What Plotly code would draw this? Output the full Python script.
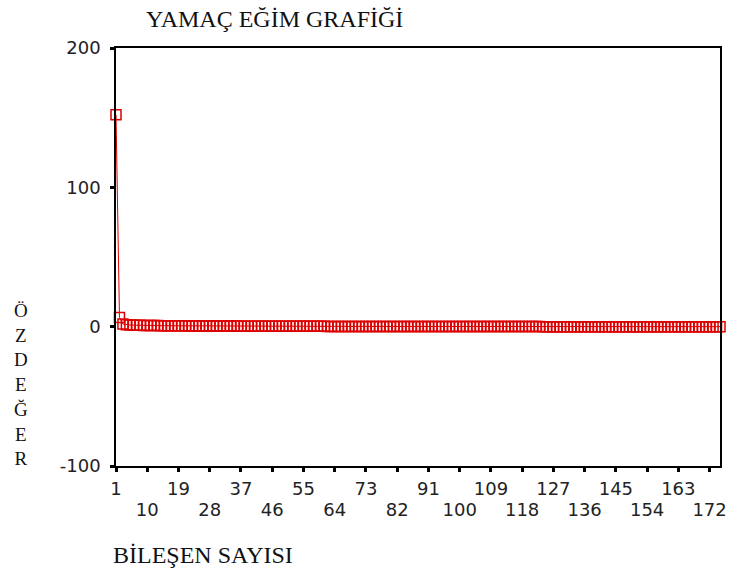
import plotly.graph_objects as go

# Scree plot: eigenvalue of each component, in order
components = list(range(1, 176))
eigenvalues = [
    152.1, 6.6, 1.9, 1.4, 1.2, 1.1, 1.0, 0.95, 0.90, 0.86,
    0.82, 0.79, 0.76, 0.73, 0.70, 0.68, 0.66, 0.64, 0.62, 0.60,
    0.58, 0.56, 0.55, 0.53, 0.52, 0.50, 0.49, 0.48, 0.46, 0.45,
    0.44, 0.43, 0.42, 0.41, 0.40, 0.39, 0.38, 0.37, 0.36, 0.35,
    0.35, 0.34, 0.33, 0.32, 0.31, 0.31, 0.30, 0.29, 0.28, 0.28,
    0.27, 0.26, 0.26, 0.25, 0.24, 0.24, 0.23, 0.23, 0.22, 0.21,
    0.21, 0.20, 0.20, 0.19, 0.19, 0.18, 0.18, 0.17, 0.17, 0.16,
    0.16, 0.15, 0.15, 0.15, 0.14, 0.14, 0.13, 0.13, 0.13, 0.12,
    0.12, 0.12, 0.11, 0.11, 0.11, 0.10, 0.10, 0.10, 0.09, 0.09,
    0.09, 0.09, 0.08, 0.08, 0.08, 0.08, 0.07, 0.07, 0.07, 0.07,
    0.06, 0.06, 0.06, 0.06, 0.06, 0.05, 0.05, 0.05, 0.05, 0.05,
    0.04, 0.04, 0.04, 0.04, 0.04, 0.04, 0.03, 0.03, 0.03, 0.03,
    0.03, 0.03, 0.03, 0.02, 0.02, 0.02, 0.02, 0.02, 0.02, 0.02,
    0.02, 0.02, 0.01, 0.01, 0.01, 0.01, 0.01, 0.01, 0.01, 0.01,
    0.01, 0.01, 0.01, 0.01, 0.01, 0.01, 0.01, 0.00, 0.00, 0.00,
    0.00, 0.00, 0.00, 0.00, 0.00, 0.00, 0.00, 0.00, 0.00, 0.00,
    0.00, 0.00, 0.00, 0.00, 0.00, 0.00, 0.00, 0.00, 0.00, 0.00,
    0.00, 0.00, 0.00, 0.00, 0.00,
]

# Tick positions: first row and the staggered second row
x_ticks_upper = [1, 19, 37, 55, 73, 91, 109, 127, 145, 163]
x_ticks_lower = [10, 28, 46, 64, 82, 100, 118, 136, 154, 172]
y_tick_values = [-100, 0, 100, 200]

X_RANGE = [1, 175]
Y_RANGE = [-100, 200]
RED = "#dc0000"
sans = "DejaVu Sans, Arial, sans-serif"
serif = "Liberation Serif, Times New Roman, serif"
tick_font = dict(family=sans, size=18, color="#222")

fig = go.Figure()
# connecting line on the primary x axis
fig.add_trace(go.Scatter(
    x=components, y=eigenvalues, mode="lines",
    line=dict(color=RED, width=1),
    xaxis="x", yaxis="y",
    showlegend=False, hoverinfo="skip",
))
# open square markers on the overlaid axis that carries the lower label row
fig.add_trace(go.Scatter(
    x=components, y=eigenvalues, mode="markers",
    marker=dict(symbol="square-open", size=10,
                color=RED, line=dict(color=RED, width=1.5)),
    xaxis="x2", yaxis="y",
    cliponaxis=False, showlegend=False, hoverinfo="x+y",
))

frame = dict(showline=True, linecolor="black", linewidth=1.5, mirror=True,
             showgrid=False, zeroline=False,
             ticks="outside", ticklen=4, tickwidth=3, tickcolor="black")

all_x_ticks = sorted(x_ticks_upper + x_ticks_lower)
fig.update_layout(
    xaxis=dict(range=X_RANGE, tickmode="array", tickvals=all_x_ticks,
               ticktext=[str(v) if v in x_ticks_upper else ""
                         for v in all_x_ticks],
               tickfont=tick_font, ticklabelstandoff=2, **frame),
    xaxis2=dict(range=X_RANGE, overlaying="x", anchor="y", side="bottom",
                tickmode="array", tickvals=x_ticks_lower,
                ticktext=[str(v) for v in x_ticks_lower],
                tickfont=tick_font, ticks="", showline=False,
                showgrid=False, zeroline=False, ticklabelstandoff=31),
    yaxis=dict(range=Y_RANGE, tickmode="array", tickvals=y_tick_values,
               ticktext=[str(v) for v in y_tick_values],
               tickfont=tick_font, ticklabelstandoff=6, **frame),
)

fig.add_annotation(text="YAMAÇ EĞİM GRAFİĞİ", xref="paper", yref="paper",
                   x=0.047, y=1.07, xanchor="left", yanchor="middle",
                   showarrow=False,
                   font=dict(family=serif, size=24, color="#111"))
fig.add_annotation(text="BİLEŞEN SAYISI", xref="paper", yref="paper",
                   x=-0.008, y=-0.213, xanchor="left", yanchor="middle",
                   showarrow=False,
                   font=dict(family=serif, size=24, color="#111"))
fig.add_annotation(text="Ö<br>Z<br>D<br>E<br>Ğ<br>E<br>R",
                   xref="paper", yref="paper",
                   x=-0.157, y=0.196, xanchor="center", yanchor="middle",
                   showarrow=False, align="center",
                   font=dict(family=serif, size=19, color="#111"))

fig.update_layout(
    width=737, height=570,
    margin=dict(l=116, r=10, t=48, b=104),
    paper_bgcolor="white", plot_bgcolor="white",
)

fig.write_html("out.html")
